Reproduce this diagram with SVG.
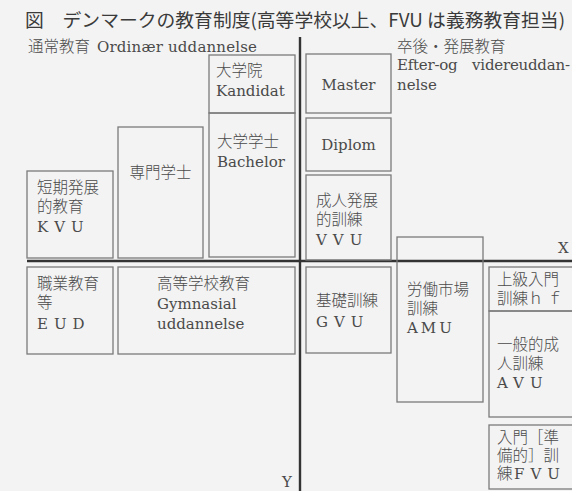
<svg xmlns="http://www.w3.org/2000/svg" width="572" height="491" viewBox="0 0 572 491">
<style>
.bx{fill:none;stroke:#7a7a7a;stroke-width:1.3}
.t{font-family:"DejaVu Serif","Noto Sans CJK JP",serif;font-size:15px;fill:#4a4a4a}
.j{font-family:"Noto Sans CJK JP",sans-serif;font-size:15.5px;fill:#4a4a4a;font-weight:300}
.ax{stroke:#333;stroke-width:2.4}
</style>
<rect width="572" height="491" fill="#f3f3f3"/>
<text x="25" y="27" font-family="Noto Sans CJK JP,sans-serif" font-size="18.2" fill="#3a3a3a" textLength="540" lengthAdjust="spacingAndGlyphs">図　デンマークの教育制度(高等学校以上、FVU は義務教育担当)</text>
<text x="28" y="52" class="j">通常教育</text>
<text x="97" y="52" class="t" textLength="160">Ordinær uddannelse</text>
<text x="397" y="52" class="j">卒後・発展教育</text>
<text x="397" y="70" class="t" textLength="173" word-spacing="10">Efter-og videreuddan-</text>
<text x="397" y="90" class="t">nelse</text>
<g id="connectors">
<line class="ax" x1="300" y1="37" x2="300" y2="491"/>
<line class="ax" x1="27" y1="261" x2="572" y2="261"/>
</g>
<text x="558" y="253" class="t">X</text>
<text x="282" y="487" class="t">Y</text>
<g id="kvu"><rect class="bx" x="27" y="171" width="86" height="87"/>
<text class="j" x="37" y="193">短期発展</text><text class="j" x="37" y="212">的教育</text><text class="t" x="37" y="232" letter-spacing="6">KVU</text></g>
<g id="senmon"><rect class="bx" x="118" y="127" width="85" height="131"/>
<text class="j" x="160.5" y="178" text-anchor="middle">専門学士</text></g>
<g id="kandidat"><rect class="bx" x="209" y="55" width="86" height="58"/>
<text class="j" x="216" y="76">大学院</text><text class="t" x="216" y="96">Kandidat</text></g>
<g id="bachelor"><rect class="bx" x="209" y="113" width="86" height="144"/>
<text class="j" x="217" y="147">大学学士</text><text class="t" x="217" y="167">Bachelor</text></g>
<g id="eud"><rect class="bx" x="27" y="267" width="86" height="87"/>
<text class="j" x="37" y="289">職業教育</text><text class="j" x="37" y="308">等</text><text class="t" x="37" y="329" letter-spacing="6">EUD</text></g>
<g id="gym"><rect class="bx" x="118" y="267" width="177" height="87"/>
<text class="j" x="157" y="289">高等学校教育</text><text class="t" x="157" y="309">Gymnasial</text><text class="t" x="157" y="329">uddannelse</text></g>
<g id="master"><rect class="bx" x="306" y="54" width="85" height="59"/>
<text class="t" x="348.5" y="90" text-anchor="middle">Master</text></g>
<g id="diplom"><rect class="bx" x="306" y="118" width="85" height="53"/>
<text class="t" x="348.5" y="150" text-anchor="middle">Diplom</text></g>
<g id="vvu"><rect class="bx" x="306" y="175" width="85" height="85"/>
<text class="j" x="316" y="206">成人発展</text><text class="j" x="316" y="225">的訓練</text><text class="t" x="316" y="245" letter-spacing="6">VVU</text></g>
<g id="amu"><rect class="bx" x="397" y="237" width="86" height="165"/>
<text class="j" x="407" y="295">労働市場</text><text class="j" x="407" y="314">訓練</text><text class="t" x="407" y="333" letter-spacing="3">AMU</text></g>
<g id="gvu"><rect class="bx" x="306" y="267" width="85" height="86"/>
<text class="j" x="316" y="306">基礎訓練</text><text class="t" x="316" y="327" letter-spacing="6">GVU</text></g>
<g id="hf"><rect class="bx" x="489" y="267" width="90" height="44"/>
<text class="j" x="497" y="285">上級入門</text><text class="j" x="497" y="304">訓練ｈ ｆ</text></g>
<g id="avu"><rect class="bx" x="489" y="311" width="90" height="106"/>
<text class="j" x="497" y="350">一般的成</text><text class="j" x="497" y="369">人訓練</text><text class="t" x="497" y="388" letter-spacing="6">AVU</text></g>
<g id="fvu"><rect class="bx" x="489" y="425" width="90" height="64"/>
<text class="j" x="497" y="443">入門［準</text><text class="j" x="497" y="461">備的］訓</text><text class="j" x="497" y="479">練</text><text class="t" x="514" y="479" letter-spacing="6">FVU</text></g>
</svg>
